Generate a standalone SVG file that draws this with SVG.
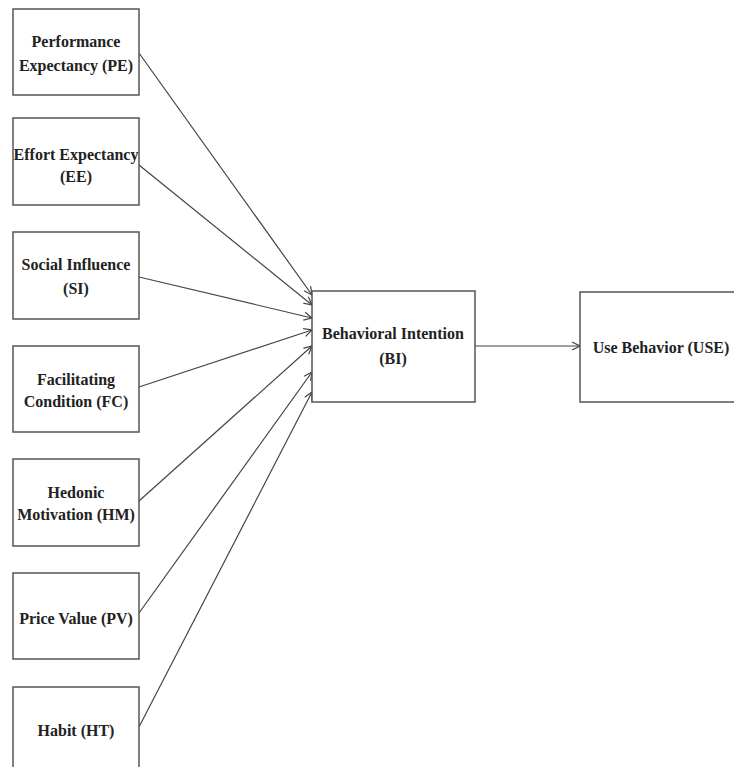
<svg xmlns="http://www.w3.org/2000/svg" width="734" height="767" viewBox="0 0 734 767">
<defs>
<style>
.box{fill:#fff;stroke:#555;stroke-width:1.5}
.t{font-family:"Liberation Serif","Times New Roman",serif;font-weight:bold;font-size:16px;fill:#222;text-anchor:middle}
.c{stroke:#444;stroke-width:1.2;fill:none;marker-end:url(#ah)}
</style>
<marker id="ah" markerWidth="10" markerHeight="10" refX="9" refY="5" orient="auto" markerUnits="userSpaceOnUse">
<path d="M1,1 L9,5 L1,9" fill="none" stroke="#444" stroke-width="1.2"/>
</marker>
</defs>
<rect width="734" height="767" fill="#fff"/>
<g id="connectors">
<line class="c" x1="139" y1="53" x2="312" y2="295"/>
<line class="c" x1="139" y1="165" x2="312" y2="305"/>
<line class="c" x1="139" y1="277" x2="312" y2="318"/>
<line class="c" x1="139" y1="387" x2="312" y2="330"/>
<line class="c" x1="139" y1="501" x2="312" y2="346"/>
<line class="c" x1="139" y1="613" x2="312" y2="372"/>
<line class="c" x1="139" y1="727" x2="312" y2="392"/>
<line class="c" x1="475" y1="346" x2="580" y2="346"/>
</g>
<g id="PE"><rect class="box" x="13" y="9" width="126" height="86"/><text class="t" x="76" y="47">Performance</text><text class="t" x="76" y="71">Expectancy (PE)</text></g>
<g id="EE"><rect class="box" x="13" y="118" width="126" height="87"/><text class="t" x="76" y="160">Effort Expectancy</text><text class="t" x="76" y="182">(EE)</text></g>
<g id="SI"><rect class="box" x="13" y="232" width="126" height="87"/><text class="t" x="76" y="270">Social Influence</text><text class="t" x="76" y="294">(SI)</text></g>
<g id="FC"><rect class="box" x="13" y="346" width="126" height="86"/><text class="t" x="76" y="385">Facilitating</text><text class="t" x="76" y="407">Condition (FC)</text></g>
<g id="HM"><rect class="box" x="13" y="459" width="126" height="87"/><text class="t" x="76" y="498">Hedonic</text><text class="t" x="76" y="520">Motivation (HM)</text></g>
<g id="PV"><rect class="box" x="13" y="573" width="126" height="86"/><text class="t" x="76" y="624">Price Value (PV)</text></g>
<g id="HT"><rect class="box" x="13" y="687" width="126" height="90"/><text class="t" x="76" y="736">Habit (HT)</text></g>
<g id="BI"><rect class="box" x="312" y="291" width="163" height="111"/><text class="t" x="393" y="339">Behavioral Intention</text><text class="t" x="393" y="364">(BI)</text></g>
<g id="USE"><rect class="box" x="580" y="292" width="160" height="110"/><text class="t" x="661" y="353">Use Behavior (USE)</text></g>
</svg>
